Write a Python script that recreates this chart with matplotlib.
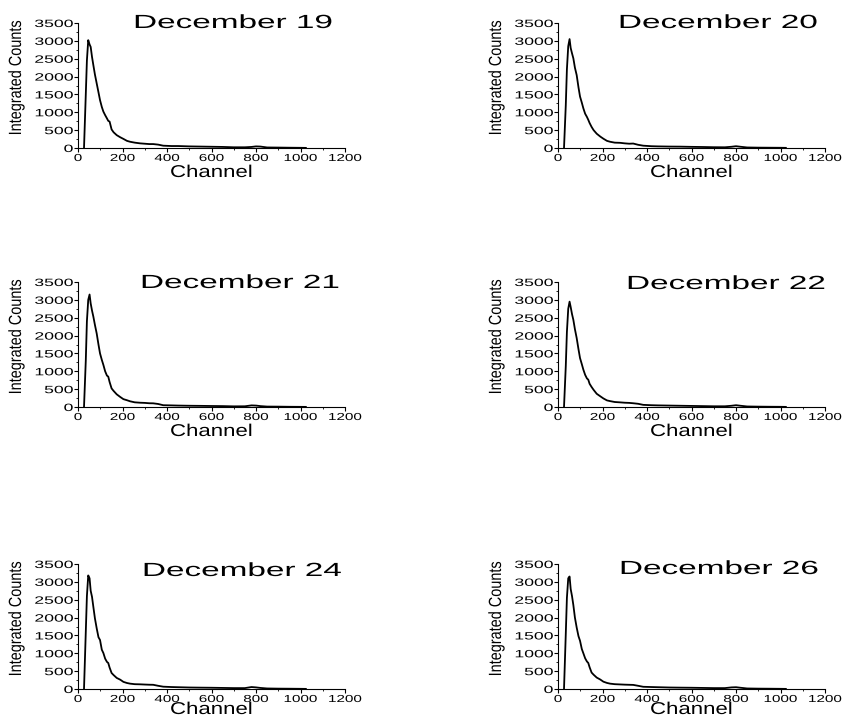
import numpy as np
import matplotlib
matplotlib.use('Agg')
import matplotlib.pyplot as plt
from matplotlib.patheffects import AbstractPathEffect
from matplotlib.transforms import Affine2D
from matplotlib.ticker import MultipleLocator

plt.rcParams['font.family'] = ['Liberation Sans', 'DejaVu Sans']

# channel numbers
channel = [27, 35, 40, 46, 52, 57, 63, 69, 76, 84, 92, 99, 107, 114, 122, 130,
           136, 142, 151, 160, 174, 190, 204, 220, 234, 255, 279, 300, 320, 338,
           360, 383, 420, 450, 500, 550, 600, 650, 700, 750, 780, 800, 820, 850,
           900, 950, 1000, 1024]

dec19 = [0, 1500, 2450, 3020, 2900, 2830, 2550, 2320, 2060, 1810, 1560, 1340, 1150, 1020, 920, 830,
         760, 740, 520, 440, 360, 300, 255, 200, 175, 150, 130, 120, 110, 110,
         95, 65, 55, 55, 45, 40, 35, 30, 20, 20, 30, 45, 40, 15,
         12, 8, 5, 3]
dec20 = [0, 1200, 2200, 2850, 3050, 2800, 2650, 2510, 2250, 2040, 1700, 1440, 1270, 1110, 960, 870,
         790, 700, 590, 500, 400, 320, 260, 200, 175, 150, 145, 130, 120, 125,
         90, 65, 50, 45, 40, 38, 32, 28, 22, 20, 35, 50, 35, 15,
         10, 8, 6, 4]
dec21 = [0, 1300, 2400, 3000, 3150, 2900, 2700, 2530, 2300, 2060, 1750, 1500, 1320, 1180, 1000, 880,
         850, 700, 520, 450, 355, 280, 220, 190, 160, 131, 120, 115, 105, 103,
         85, 50, 45, 40, 35, 32, 28, 25, 18, 20, 45, 40, 25, 12,
         10, 6, 4, 3]
dec22 = [0, 1150, 2100, 2750, 2950, 2800, 2600, 2440, 2180, 1930, 1620, 1370, 1200, 1045, 900, 800,
         765, 650, 560, 480, 370, 300, 240, 185, 165, 140, 130, 120, 115, 105,
         90, 60, 50, 45, 40, 35, 30, 25, 20, 20, 35, 50, 35, 15,
         10, 7, 5, 3]
dec24 = [0, 1600, 2600, 3180, 3100, 2750, 2580, 2300, 1980, 1700, 1450, 1372, 1100, 1008, 850, 760,
         728, 600, 448, 390, 310, 260, 200, 168, 150, 135, 131, 125, 120, 118,
         90, 65, 55, 50, 42, 38, 35, 30, 25, 25, 55, 45, 30, 15,
         10, 8, 5, 3]
dec26 = [0, 1550, 2550, 3100, 3150, 2800, 2600, 2350, 2000, 1720, 1480, 1350, 1120, 1000, 860, 770,
         730, 610, 460, 400, 320, 265, 205, 170, 150, 135, 128, 122, 118, 115,
         90, 62, 55, 50, 42, 38, 35, 30, 25, 25, 45, 50, 35, 15,
         10, 8, 5, 3]

titles = ['December 19', 'December 20', 'December 21',
          'December 22', 'December 24', 'December 26']
spectra = [dec19, dec20, dec21, dec22, dec24, dec26]


class Stretch(AbstractPathEffect):
    """widen (or squash) the glyph paths around an anchor, like the scanned figure"""
    def __init__(self, sx=1.0, sy=1.0, anchor='center'):
        super().__init__()
        self.sx, self.sy, self.anchor = sx, sy, anchor

    def draw_path(self, renderer, gc, tpath, affine, rgbFace=None):
        box = tpath.get_extents(affine)
        if self.anchor == 'right':
            cx = box.x1
        elif self.anchor == 'left':
            cx = box.x0
        else:
            cx = (box.x0 + box.x1) / 2
        cy = (box.y0 + box.y1) / 2
        aff = affine + Affine2D().translate(-cx, -cy).scale(self.sx, self.sy).translate(cx, cy)
        renderer.draw_path(gc, tpath, aff, rgbFace)


W, H = 844, 716
fig = plt.figure(figsize=(W / 100, H / 100), dpi=100)

lefts = [78, 558]
tops = [23, 282, 564]      # pixel row of the 3500 tick
ax_w, ax_h = 267, 125
title_x = [233, 718, 240, 726, 242, 719]
title_base = [28, 28, 288, 289, 576, 574]
xlabel_drop = [29, 29, 25]  # px from axis line to baseline of "Channel"

for i, (name, counts) in enumerate(zip(titles, spectra)):
    r, c = divmod(i, 2)
    ax = fig.add_axes([lefts[c] / W, 1 - (tops[r] + ax_h) / H, ax_w / W, ax_h / H])
    ax.plot(channel, counts, color='black', lw=1.3)
    ax.set_xlim(0, 1200)
    ax.set_ylim(0, 3500)
    ax.set_xticks(np.arange(0, 1201, 200))
    ax.set_yticks(np.arange(0, 3501, 500))
    ax.xaxis.set_minor_locator(MultipleLocator(100))
    ax.yaxis.set_minor_locator(MultipleLocator(250))
    for s in ['top', 'right']:
        ax.spines[s].set_visible(False)
    ax.tick_params(which='major', direction='out', length=2.8, width=0.8, pad=0.8)
    ax.tick_params(which='minor', direction='out', length=1.5, width=0.6)
    ax.tick_params(axis='y', labelsize=7.6)
    ax.tick_params(axis='x', labelsize=7.3)
    for lab in ax.get_yticklabels():
        lab.set_path_effects([Stretch(1.67, anchor='right')])
    for lab in ax.get_xticklabels():
        lab.set_path_effects([Stretch(1.5)])

    ax.set_xlabel('Channel', fontsize=12.3, path_effects=[Stretch(1.3)])
    ax.xaxis.label.set_va('baseline')
    ax.xaxis.set_label_coords(0.5, -xlabel_drop[r] / ax_h)
    ax.set_ylabel('Integrated Counts', fontsize=12.7, path_effects=[Stretch(1.0, 0.82)])
    ax.yaxis.set_label_coords(-53 / ax_w, 0.56)

    ax.text((title_x[i] - lefts[c]) / ax_w, 1 - (title_base[i] - tops[r]) / ax_h, name,
            transform=ax.transAxes, ha='center', va='baseline', fontsize=13.7,
            path_effects=[Stretch(1.75)])

fig.savefig('out.png', dpi=100)
